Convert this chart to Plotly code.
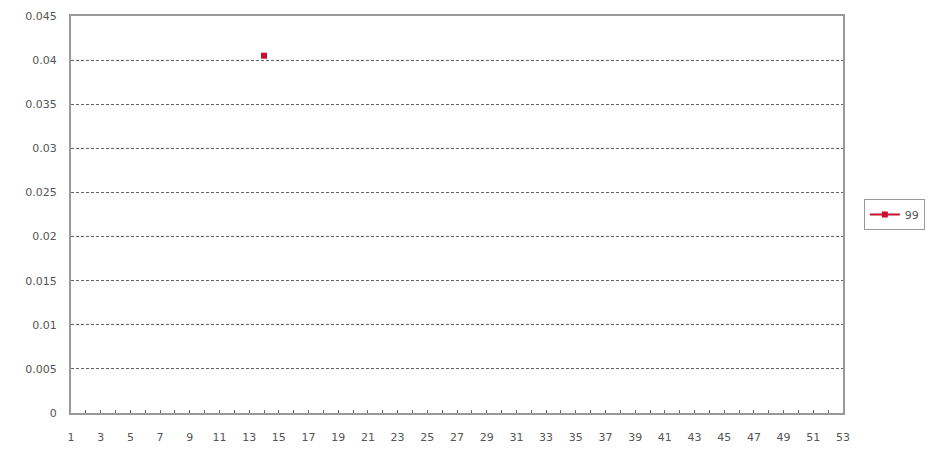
import plotly.graph_objects as go

categories = list(range(1, 54))
series_99 = [None] * 53
series_99[13] = 0.0405  # category 14
y_ticks = [0, 0.005, 0.01, 0.015, 0.02, 0.025, 0.03, 0.035, 0.04, 0.045]
y_tick_labels = ["0", "0.005", "0.01", "0.015", "0.02", "0.025", "0.03", "0.035", "0.04", "0.045"]
x_tick_labels = [str(c) if c % 2 == 1 else "" for c in categories]

fig = go.Figure()
fig.add_trace(go.Scatter(
    x=categories, y=series_99, name="99", mode="lines+markers",
    line=dict(color="#c8102e", width=2),
    marker=dict(color="#c8102e", size=6, symbol="square"),
    connectgaps=False,
))

fig.update_layout(
    width=933, height=449,
    margin=dict(l=63, r=98, t=8, b=44),
    plot_bgcolor="white", paper_bgcolor="white",
    font=dict(family="DejaVu Sans, sans-serif", size=11, color="#555555"),
    showlegend=True,
    legend=dict(x=1.027, y=0.5, xanchor="left", yanchor="middle",
                bordercolor="#999999", borderwidth=1, bgcolor="white",
                font=dict(size=11, color="#555555"), itemwidth=30,
                tracegroupgap=0),
    xaxis=dict(range=[1, 53], tickvals=categories, ticktext=x_tick_labels,
               ticks="inside", ticklen=3, tickcolor="#666666",
               ticklabelstandoff=13, automargin=False,
               showgrid=False, zeroline=False,
               showline=True, linecolor="#999999", linewidth=2, mirror=True),
    yaxis=dict(range=[0, 0.045], tickvals=y_ticks, ticktext=y_tick_labels,
               ticks="", ticklabelstandoff=10, automargin=False,
               showgrid=True, gridcolor="#666666", griddash="3px,2px", gridwidth=1,
               zeroline=False, showline=True, linecolor="#999999", linewidth=2, mirror=True),
)

fig.write_html("out.html")
